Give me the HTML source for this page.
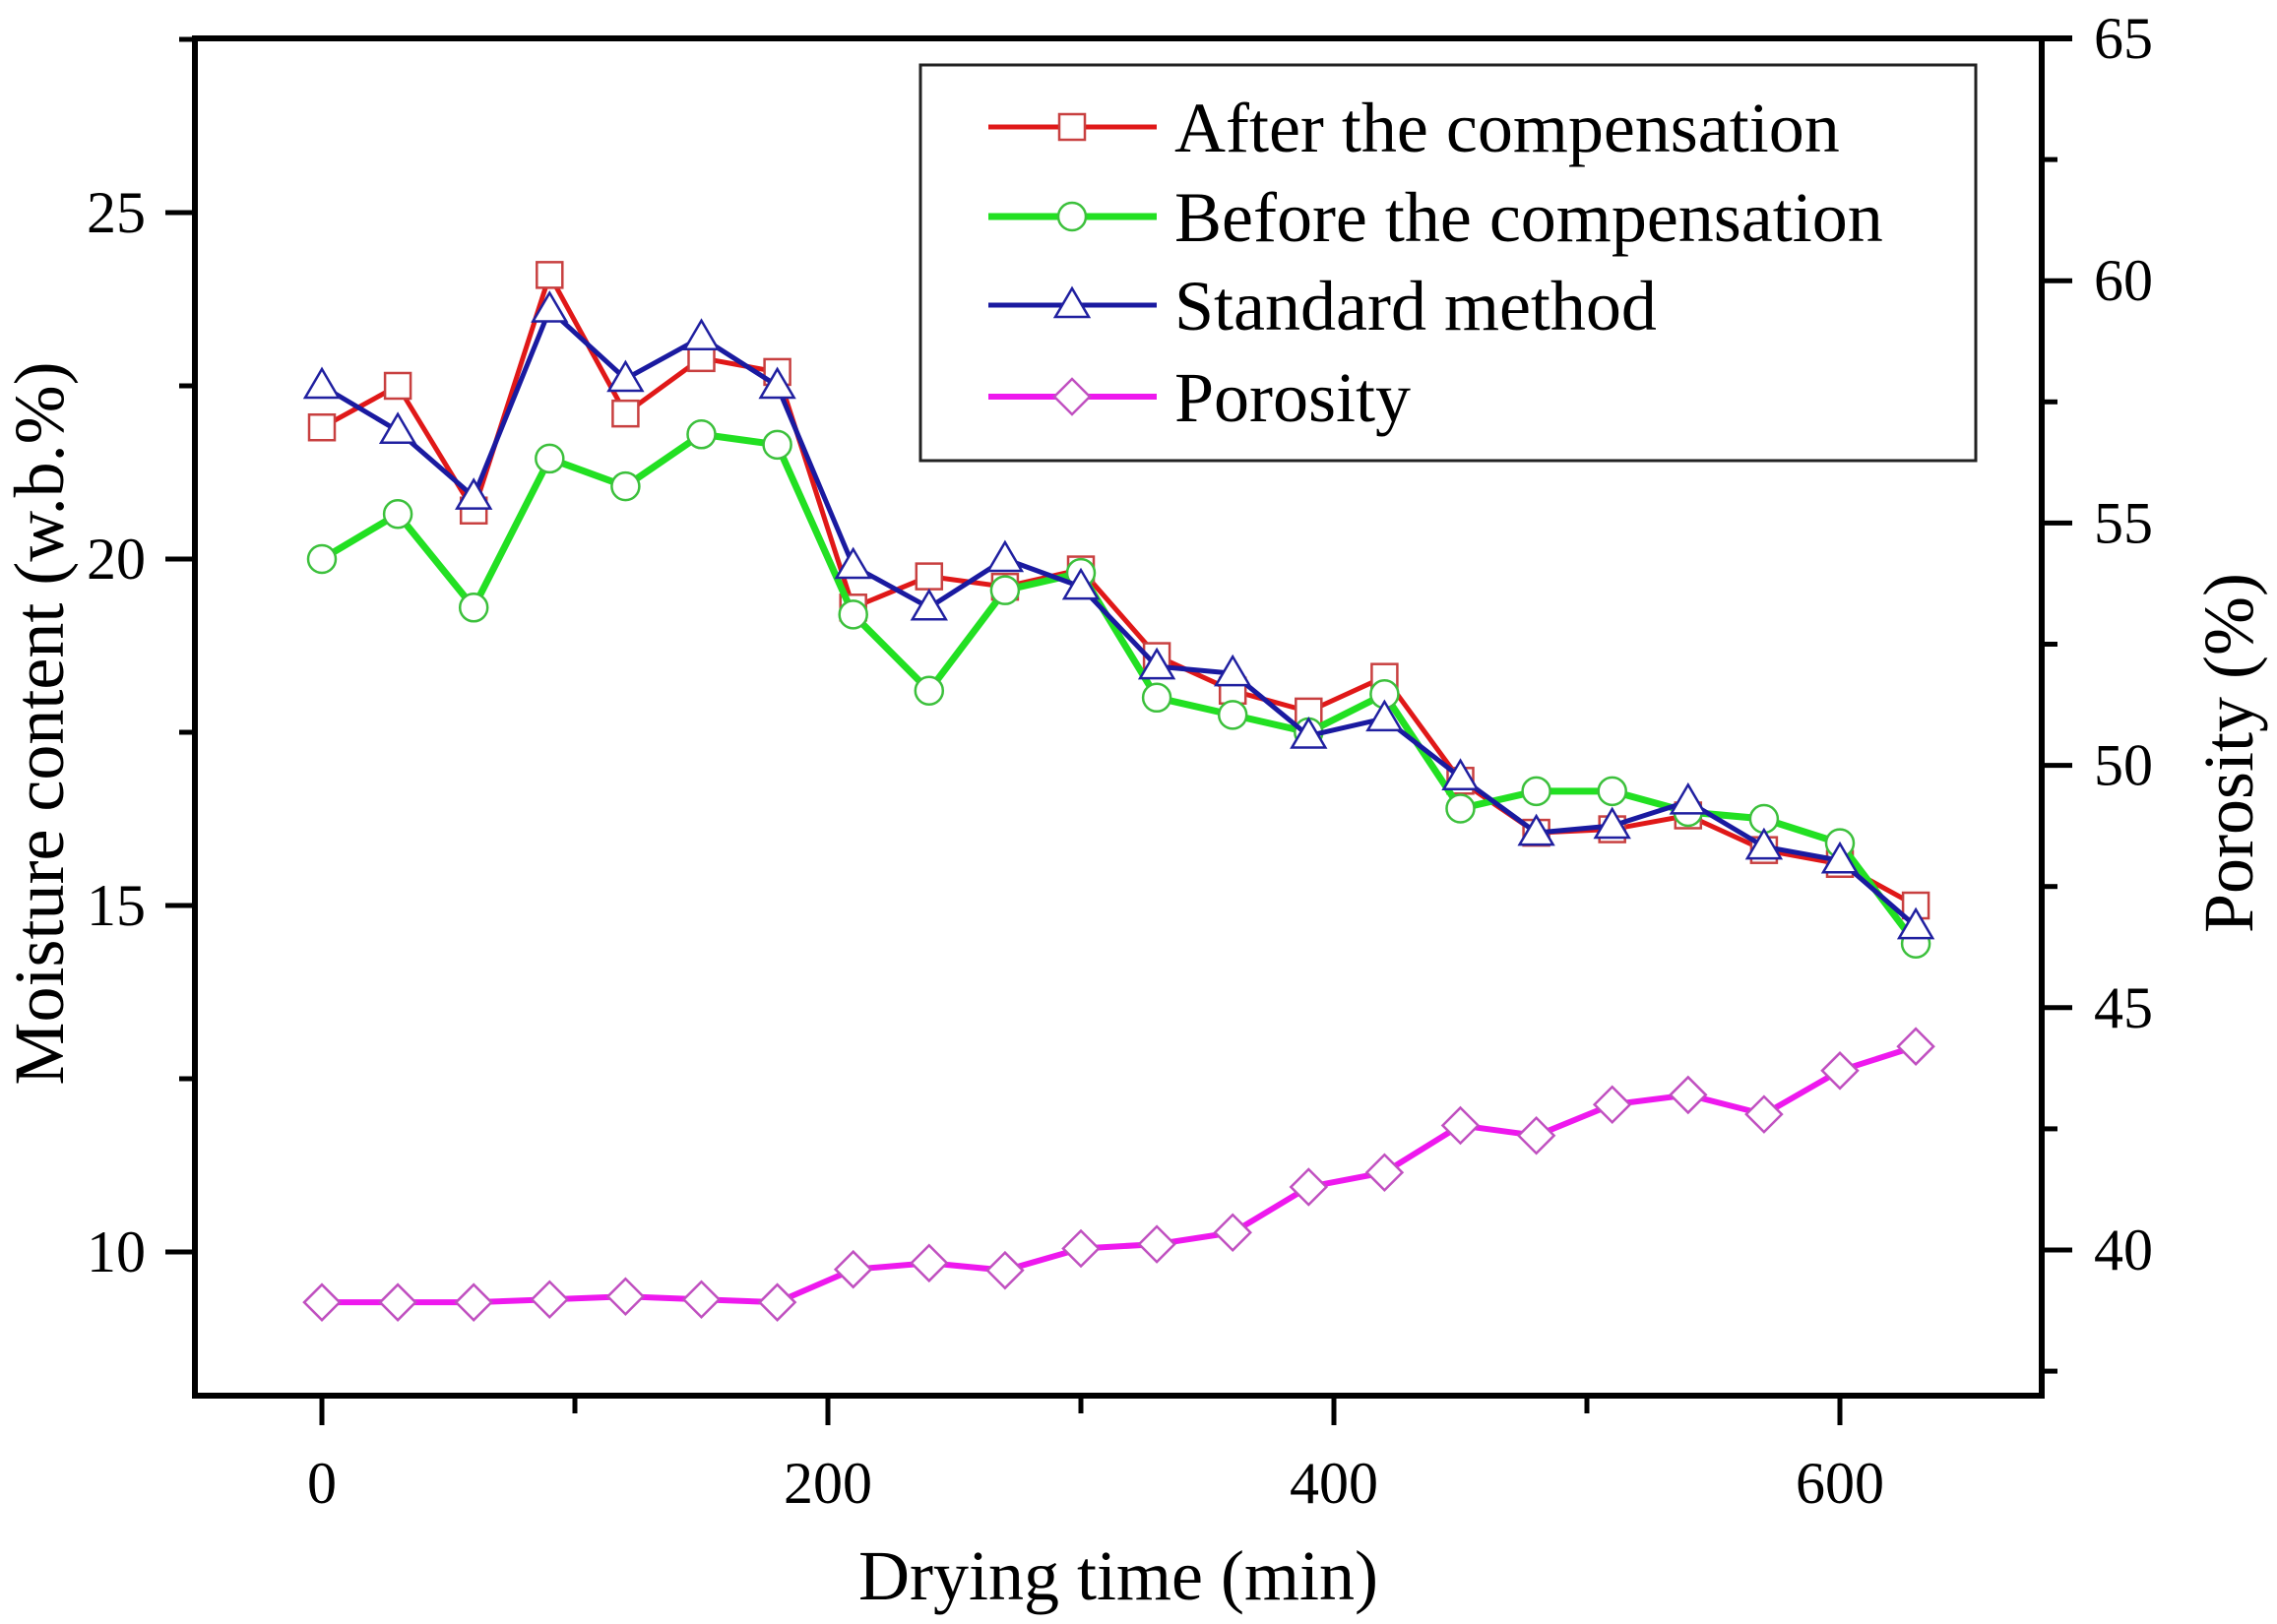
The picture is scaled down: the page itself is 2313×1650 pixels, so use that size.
<!DOCTYPE html>
<html><head><meta charset="utf-8"><style>
html,body{margin:0;padding:0;background:#fff}
svg{display:block}
text{font-family:"Liberation Serif",serif;fill:#000}
</style></head><body>
<svg id="c" width="2313" height="1650" viewBox="0 0 2313 1650" xmlns="http://www.w3.org/2000/svg"></svg>
<script>
const times=[0,30,60,90,120,150,180,210,240,270,300,330,360,390,420,450,480,510,540,570,600,630];
const afterComp=[21.9,22.5,20.7,24.1,22.1,22.9,22.7,19.3,19.75,19.6,19.85,18.6,18.1,17.8,18.3,16.8,16.05,16.1,16.3,15.8,15.6,15.0];
const beforeComp=[20.0,20.65,19.3,21.45,21.05,21.8,21.65,19.2,18.1,19.55,19.8,18.0,17.75,17.5,18.05,16.4,16.65,16.65,16.35,16.25,15.9,14.45];
const standard=[22.5,21.85,20.9,23.6,22.6,23.2,22.5,19.9,19.3,20.0,19.6,18.45,18.35,17.45,17.7,16.85,16.05,16.15,16.5,15.85,15.65,14.7];
const porosity=[38.92,38.92,38.92,38.98,39.04,38.98,38.92,39.6,39.73,39.58,40.03,40.12,40.36,41.3,41.6,42.57,42.36,43.0,43.2,42.8,43.7,44.2];
const xTicks=[0,200,400,600];
const xMinor=[100,300,500];
const yLeftTicks=[10,15,20,25];
const yLeftMinor=[12.5,17.5,22.5,27.5];
const yRightTicks=[40,45,50,55,60,65];
const yRightMinor=[37.5,42.5,47.5,52.5,57.5,62.5];
const legendLabels=["After the compensation","Before the compensation","Standard method","Porosity"];

const L=198,R=2074,T=39,B=1418;
const X=v=>327+v*(1869-327)/600;
const YL=v=>216+(25-v)*(568-216)/5;
const YR=v=>1270-(v-40)*(1270-39)/25;
const svg=document.getElementById('c');
const NS='http://www.w3.org/2000/svg';
function el(t,a,p){const e=document.createElementNS(NS,t);for(const k in a)e.setAttribute(k,a[k]);(p||svg).appendChild(e);return e;}

// series
const series=[
 {d:afterComp,y:YL,c:'#e01818',m:'#c84040',mk:'sq',w:5,name:'after-compensation'},
 {d:beforeComp,y:YL,c:'#22e022',m:'#3cc03c',mk:'ci',w:7,name:'before-compensation'},
 {d:standard,y:YL,c:'#1a1aa0',m:'#2020a0',mk:'tr',w:5,name:'standard-method'},
 {d:porosity,y:YR,c:'#ee18ee',m:'#c050c0',mk:'di',w:6,name:'porosity'}
];
function marker(g,type,x,y,s){
  let e;
  if(type==='sq')e=el('rect',{x:x-13,y:y-13,width:26,height:26},g);
  else if(type==='ci')e=el('circle',{cx:x,cy:y,r:14},g);
  else if(type==='tr')e=el('polygon',{points:`${x},${y-17} ${x-17},${y+12} ${x+17},${y+12}`},g);
  else e=el('polygon',{points:`${x},${y-18} ${x+18},${y} ${x},${y+18} ${x-18},${y}`},g);
  e.setAttribute('fill','#fff');e.setAttribute('stroke',s.m);e.setAttribute('stroke-width','2.5');
  
  
  return e;
}
series.forEach(s=>{
  const g=el('g',{});
  
  
  const pts=times.map((t,i)=>X(t)+','+s.y(s.d[i])).join(' ');
  const pl=el('polyline',{points:pts,fill:'none',stroke:s.c,'stroke-width':s.w,'stroke-linejoin':'round'},g);
  
  
  times.forEach((t,i)=>marker(g,s.mk,X(t),s.y(s.d[i]),s));
});

// frame
const f=el('rect',{x:L,y:T,width:R-L,height:B-T,fill:'none',stroke:'#000','stroke-width':6});


el('line',{x1:R,y1:T,x2:2105,y2:T,stroke:'#000','stroke-width':6});
// x ticks
xTicks.forEach(v=>{
  el('line',{x1:X(v),y1:B,x2:X(v),y2:B+30,stroke:'#000','stroke-width':5});
  const t=el('text',{x:X(v),y:1527,'font-size':60,'text-anchor':'middle'});t.textContent=v;
  
  
});
xMinor.forEach(v=>el('line',{x1:X(v),y1:B,x2:X(v),y2:B+18,stroke:'#000','stroke-width':5}));
// left ticks
yLeftTicks.forEach(v=>{
  el('line',{x1:L,y1:YL(v),x2:L-30,y2:YL(v),stroke:'#000','stroke-width':5});
  const t=el('text',{x:148,y:YL(v)+20,'font-size':60,'text-anchor':'end'});t.textContent=v;
  
  
});
yLeftMinor.forEach(v=>el('line',{x1:L,y1:YL(v),x2:L-16,y2:YL(v),stroke:'#000','stroke-width':5}));
// right ticks
yRightTicks.forEach(v=>{
  el('line',{x1:R,y1:YR(v),x2:R+31,y2:YR(v),stroke:'#000','stroke-width':5});
  const t=el('text',{x:2127,y:YR(v)+20,'font-size':60});t.textContent=v;
  
  
});
yRightMinor.forEach(v=>el('line',{x1:R,y1:YR(v),x2:R+16,y2:YR(v),stroke:'#000','stroke-width':5}));

// titles
let t=el('text',{x:1136,y:1625,'font-size':72,'text-anchor':'middle'});t.textContent='Drying time (min)';

t=el('text',{x:0,y:0,'font-size':72,'text-anchor':'middle',transform:'translate(64,735) rotate(-90)'});t.textContent='Moisture content (w.b.%)';

t=el('text',{x:0,y:0,'font-size':72,'text-anchor':'middle',transform:'translate(2288,765) rotate(-90)'});t.textContent='Porosity (%)';


// legend
const lg=el('g',{});


el('rect',{x:935,y:66,width:1072,height:402,fill:'#fff',stroke:'#222','stroke-width':3},lg);
const rows=[129,220,310,403];
series.forEach((s,i)=>{
  const g=el('g',{},lg);
  
  
  el('line',{x1:1004,y1:rows[i],x2:1175,y2:rows[i],stroke:s.c,'stroke-width':s.w},g);
  marker(g,s.mk,1089,rows[i],s);
  const tx=el('text',{x:1193,y:rows[i]+25,'font-size':72},g);tx.textContent=legendLabels[i];
});
</script>
</body></html>
